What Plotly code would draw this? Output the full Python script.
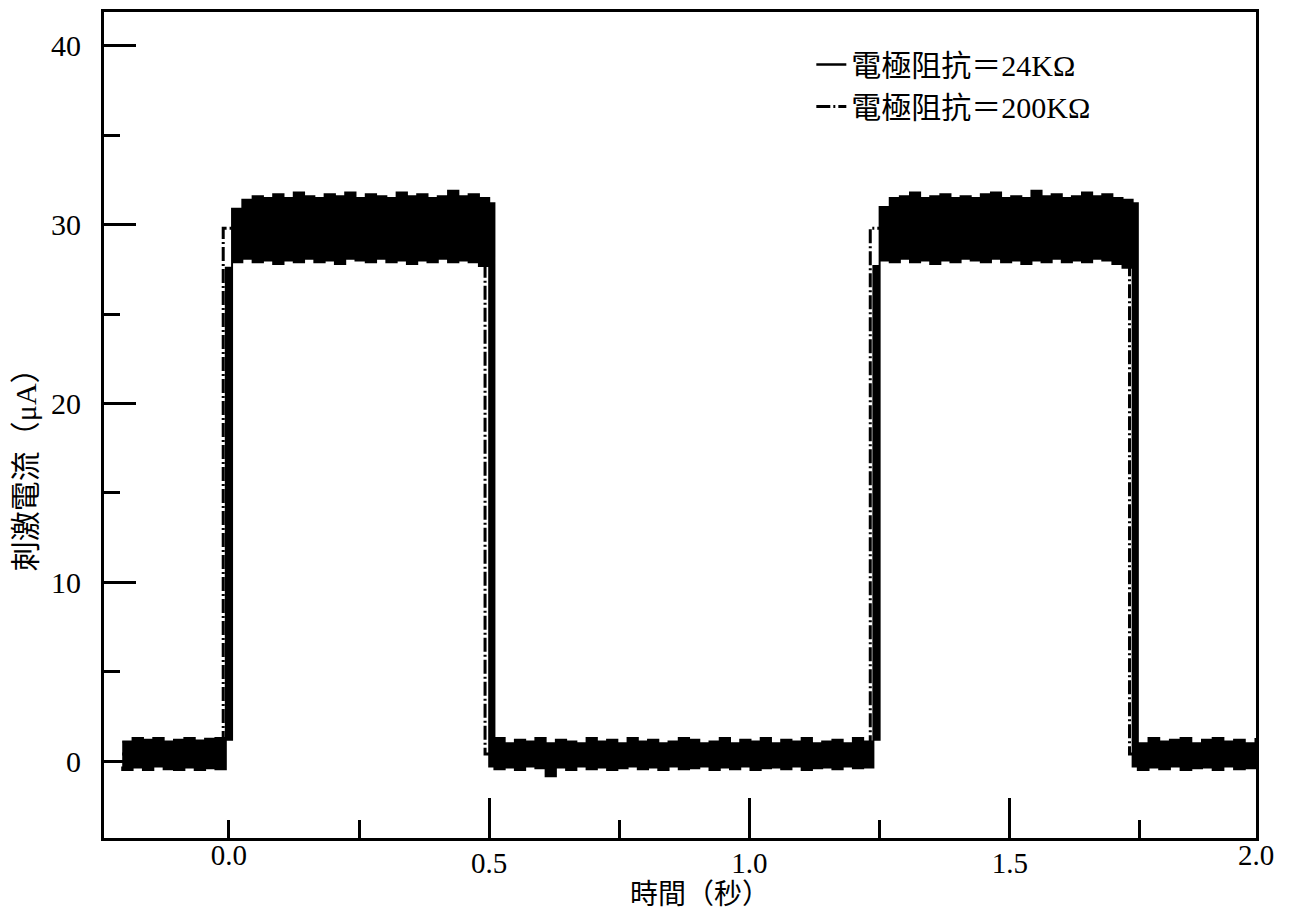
import numpy as np
import plotly.graph_objects as go

# ---------------- data ----------------
# Electrode impedance 24 KΩ : noisy square wave, given as the upper / lower
# edges of the noise band for each plateau segment (time in s, current in µA)
seg_start = [-0.205, 0.006, 0.510, 1.250, 1.746]
seg_end = [-0.006, 0.500, 1.238, 1.736, 1.972]

upper_24k = [
    [1.1, 1.3, 1.2, 1.3, 1.1, 1.2, 1.3, 1.15, 1.25, 1.3, 1.2],
    [30.9, 31.4, 31.6, 31.5, 31.7, 31.5, 31.8, 31.6, 31.5, 31.7, 31.6, 31.8, 31.5,
     31.7, 31.6, 31.5, 31.8, 31.6, 31.7, 31.5, 31.6, 31.9, 31.6, 31.7, 31.5, 31.2],
    [1.3, 1.0, 1.2, 1.1, 1.3, 1.0, 1.2, 1.1, 1.0, 1.3, 1.1, 1.2, 1.0, 1.3, 1.1, 1.2,
     1.0, 1.1, 1.3, 1.2, 1.0, 1.1, 1.3, 1.0, 1.2, 1.1, 1.3, 1.0, 1.2, 1.1, 1.3, 1.0,
     1.1, 1.2, 1.0, 1.3, 1.1, 1.2],
    [31.0, 31.5, 31.6, 31.8, 31.5, 31.6, 31.7, 31.5, 31.6, 31.5, 31.7, 31.8, 31.5,
     31.6, 31.5, 31.9, 31.6, 31.7, 31.5, 31.6, 31.8, 31.6, 31.7, 31.5, 31.4, 31.2],
    [1.0, 1.3, 1.1, 1.2, 1.3, 1.0, 1.2, 1.3, 1.1, 1.2, 1.0, 1.3],
]
lower_24k = [
    [-0.3, -0.5, -0.35, -0.5, -0.3, -0.45, -0.5, -0.35, -0.5, -0.4, -0.45],
    [27.6, 27.9, 28.1, 27.9, 28.0, 27.8, 28.0, 27.9, 28.1, 27.9, 28.0, 27.8, 28.1,
     28.0, 27.9, 28.1, 27.9, 28.0, 27.8, 28.0, 27.9, 28.1, 27.9, 28.0, 27.9, 27.7],
    [-0.3, -0.45, -0.35, -0.5, -0.3, -0.4, -0.85, -0.35, -0.5, -0.3, -0.45, -0.35,
     -0.5, -0.4, -0.3, -0.45, -0.35, -0.5, -0.3, -0.45, -0.4, -0.3, -0.5, -0.35,
     -0.45, -0.3, -0.5, -0.4, -0.35, -0.45, -0.3, -0.5, -0.4, -0.35, -0.45, -0.3,
     -0.4, -0.35],
    [27.7, 28.0, 27.9, 28.1, 27.9, 28.0, 27.8, 28.0, 27.9, 28.1, 28.0, 27.9, 28.1,
     27.9, 28.0, 27.8, 28.0, 27.9, 28.1, 27.9, 28.0, 27.9, 28.1, 28.0, 27.8, 27.6],
    [-0.3, -0.5, -0.35, -0.45, -0.3, -0.5, -0.4, -0.35, -0.5, -0.3, -0.45, -0.4],
]

# Electrode impedance 200 KΩ : square wave (its noise lies inside the same band)
t_200k = [-0.205, -0.011, -0.011, 0.492, 0.492, 1.232, 1.232, 1.730, 1.730, 1.972]
i_200k = [0.4, 0.4, 29.8, 29.8, 0.4, 0.4, 29.8, 29.8, 0.4, 0.4]

name_24k = "電極阻抗＝24KΩ"
name_200k = "電極阻抗＝200KΩ"

x_major = [0.5, 1.0, 1.5]
x_minor = [0.0, 0.25, 0.75, 1.25, 1.75]
x_edge_vals = [0.0, 1.973]
x_edge_text = ["0.0", "2.0"]

# ---------------- build band polygon ----------------
xs_up, ys_up, xs_lo, ys_lo = [], [], [], []
for s, e, u, l in zip(seg_start, seg_end, upper_24k, lower_24k):
    t = np.linspace(s, e, len(u))
    xs_up.extend(t)
    ys_up.extend(u)
    xs_lo.extend(t)
    ys_lo.extend(l)
x_poly = xs_up + xs_lo[::-1]
y_poly = ys_up + ys_lo[::-1]

NUM_FONT = "Liberation Serif, Noto Sans CJK TC, serif"
CJK_FONT = "Liberation Serif, Noto Sans CJK TC, sans-serif"

fig = go.Figure()
fig.add_trace(go.Scatter(
    x=x_poly, y=y_poly, mode="lines", fill="toself", fillcolor="black",
    line=dict(color="black", width=2, shape="hv"), showlegend=False,
    hoverinfo="skip"))
fig.add_trace(go.Scatter(
    x=[None], y=[None], mode="lines", name=name_24k,
    line=dict(color="black", width=2.5), legendgroup="a"))
fig.add_trace(go.Scatter(
    x=t_200k, y=i_200k, mode="lines", name=name_200k, xaxis="x2",
    line=dict(color="black", width=3, dash="14px,3px,2px,3px"), legendgroup="b"))

fig.update_layout(
    width=1294, height=918,
    margin=dict(l=96, r=46, t=1, b=88),
    paper_bgcolor="white", plot_bgcolor="white",
    showlegend=True,
    legend=dict(x=0.614, y=0.968, xanchor="left", yanchor="top",
                bgcolor="rgba(0,0,0,0)", tracegroupgap=0,
                font=dict(family=CJK_FONT, size=30, color="black")),
    xaxis=dict(range=[-0.24, 1.973], showgrid=False, zeroline=False,
               showline=True, linecolor="black", linewidth=3, mirror=True,
               tickmode="array", tickvals=x_major,
               ticktext=["0.5", "1.0", "1.5"],
               ticks="inside", ticklen=40, tickwidth=3, tickcolor="black",
               ticklabelstandoff=-3,
               minor=dict(tickmode="array", tickvals=x_minor, ticks="inside",
                          ticklen=18, tickwidth=3, tickcolor="black"),
               tickfont=dict(family=NUM_FONT, size=29, color="black")),
    xaxis2=dict(matches="x", overlaying="x", anchor="y", side="bottom",
                showgrid=False, zeroline=False, showline=False,
                tickmode="array", tickvals=x_edge_vals, ticktext=x_edge_text,
                ticks="", ticklabelstandoff=-3,
                tickfont=dict(family=NUM_FONT, size=29, color="black")),
    yaxis=dict(range=[-4.3, 41.9], showgrid=False, zeroline=False,
               showline=True, linecolor="black", linewidth=3, mirror=True,
               tick0=0, dtick=10, ticks="inside", ticklen=32, tickwidth=3,
               tickcolor="black", ticklabelstandoff=14,
               minor=dict(dtick=5, ticks="inside", ticklen=16, tickwidth=3,
                          tickcolor="black"),
               tickfont=dict(family=NUM_FONT, size=30, color="black")),
    annotations=[
        dict(text="時間（秒）", xref="paper", yref="paper", x=0.517, y=-0.068,
             xanchor="center", yanchor="middle", showarrow=False,
             font=dict(family=CJK_FONT, size=28, color="black")),
        dict(text="刺激電流（μA）", xref="paper", yref="paper", x=-0.0686, y=0.455,
             xanchor="center", yanchor="middle", showarrow=False, textangle=-90,
             font=dict(family=CJK_FONT, size=30, color="black")),
    ],
)

fig.write_html("out.html")
